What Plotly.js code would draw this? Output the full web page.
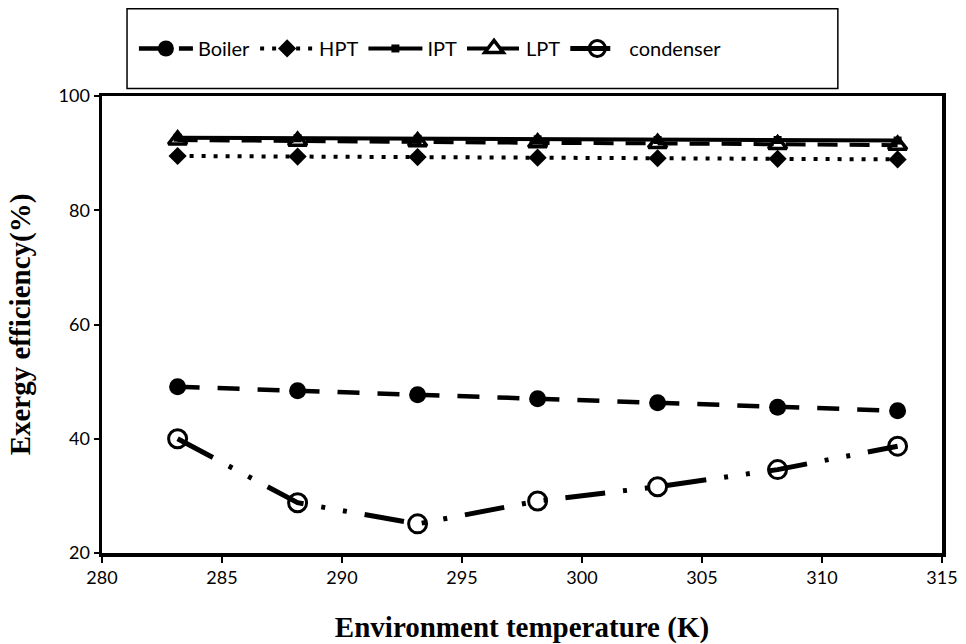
<!DOCTYPE html>
<html>
<head>
<meta charset="utf-8">
<script src="https://cdn.plot.ly/plotly-3.0.1.min.js"></script>
<style>html,body{margin:0;padding:0;background:#fff;}#chart{width:966px;height:644px;}</style>
</head>
<body>
<div id="chart"></div>
<script>
// Environment temperature (K)
const temperature = [283.15, 288.15, 293.15, 298.15, 303.15, 308.15, 313.15];
// Exergy efficiency (%)
const boiler    = [49.1, 48.4, 47.7, 47.0, 46.3, 45.5, 44.9];
const hpt       = [89.5, 89.4, 89.3, 89.2, 89.1, 89.0, 88.9];
const ipt       = [92.7, 92.6, 92.5, 92.4, 92.3, 92.3, 92.2];
const lpt       = [92.3, 92.1, 92.0, 91.8, 91.7, 91.5, 91.4];
const condenser = [40.0, 28.8, 25.1, 29.1, 31.6, 34.6, 38.7];

const seriesNames = ['Boiler', 'HPT', 'IPT', 'LPT', 'condenser'];
const xTicks = [280, 285, 290, 295, 300, 305, 310, 315];
const yTicks = [20, 40, 60, 80, 100];

const traces = [
  {x: temperature, y: boiler, name: seriesNames[0], mode: 'lines+markers',
   line: {color: '#000', width: 4.5, dash: '22px,18px'},
   marker: {symbol: 'circle', size: 17, color: '#000'}},
  {x: temperature, y: hpt, name: seriesNames[1], mode: 'lines+markers',
   line: {color: '#000', width: 4, dash: '4px,8px'},
   marker: {symbol: 'diamond', size: 14, color: '#000'}},
  {x: temperature, y: ipt, name: seriesNames[2], mode: 'lines+markers',
   line: {color: '#000', width: 4},
   marker: {symbol: 'square', size: 8, color: '#000'}},
  {x: temperature, y: lpt, name: seriesNames[3], mode: 'lines+markers',
   line: {color: '#000', width: 4, dash: '20px,12px'},
   marker: {symbol: 'triangle-up-open', size: 16, color: '#000', line: {width: 3.5, color: '#000'}}},
  {x: temperature, y: condenser, name: seriesNames[4], mode: 'lines+markers',
   line: {color: '#000', width: 5, dash: '40px,18px,4px,18px,4px,18px'},
   marker: {symbol: 'circle-open', size: 18, color: '#000', line: {width: 3, color: '#000'}}}
];

const titleFont = {family: '"Liberation Serif", "Times New Roman", serif', size: 29, weight: 'bold', color: '#000'};
const tickFont = {family: 'Lato, "Open Sans", sans-serif', size: 18, color: '#000'};

const layout = {
  width: 966, height: 644,
  margin: {l: 102, r: 24, t: 96, b: 91},
  paper_bgcolor: '#fff', plot_bgcolor: '#fff',
  font: {family: 'Lato, "Open Sans", sans-serif', size: 18, color: '#000'},
  showlegend: true,
  legend: {
    orientation: 'h', x: 0.038, xanchor: 'left', y: 1.104, yanchor: 'middle',
    bgcolor: 'rgba(0,0,0,0)', borderwidth: 0, itemwidth: 54,
    font: {family: 'Lato, "Open Sans", sans-serif', size: 20, color: '#000'}
  },
  xaxis: {
    range: [280, 315], tickvals: xTicks, ticktext: xTicks.map(String),
    showgrid: false, zeroline: false,
    showline: true, linecolor: '#000', linewidth: 3.5, mirror: true,
    ticks: 'outside', ticklen: 6, tickwidth: 2, tickcolor: '#000',
    tickfont: tickFont,
    title: {text: 'Environment temperature (K)', standoff: 30, font: titleFont},
    automargin: false
  },
  yaxis: {
    range: [20, 100], tickvals: yTicks, ticktext: yTicks.map(String),
    showgrid: false, zeroline: false,
    showline: true, linecolor: '#000', linewidth: 3.5, mirror: true,
    ticks: 'outside', ticklen: 5, tickwidth: 2, tickcolor: '#000',
    tickfont: tickFont,
    title: {text: 'Exergy efficiency(%)', standoff: 20, font: titleFont},
    automargin: false
  },
  shapes: [{
    type: 'rect', xref: 'paper', yref: 'paper',
    x0: 0.0298, x1: 0.876, y0: 1.0164, y1: 1.191,
    line: {color: '#000', width: 1.5}, fillcolor: 'rgba(0,0,0,0)'
  }]
};

Plotly.newPlot('chart', traces, layout, {displayModeBar: false, staticPlot: true});
</script>
</body>
</html>
